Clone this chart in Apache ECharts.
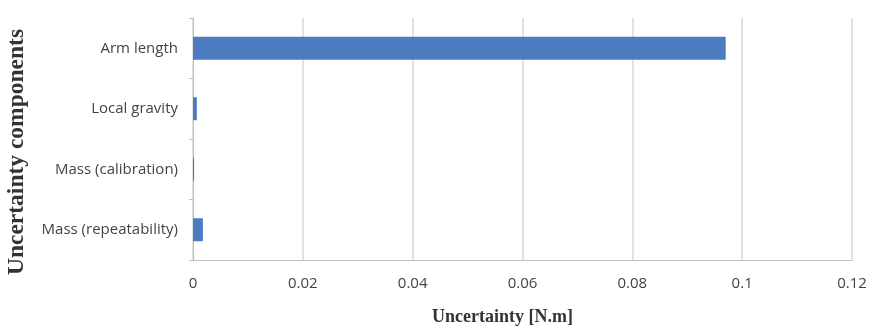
<!DOCTYPE html>
<html><head><meta charset="utf-8">
<script src="https://cdn.jsdelivr.net/npm/echarts@6/dist/echarts.min.js"></script>
<style>html,body{margin:0;padding:0;background:#fff}#c{width:875px;height:331px}</style>
</head><body><div id="c"></div>
<script>
const categories = ["Mass (repeatability)", "Mass (calibration)", "Local gravity", "Arm length"];
const values = [0.0018, 0.0002, 0.0007, 0.0970];
const xTicks = [0, 0.02, 0.04, 0.06, 0.08, 0.1, 0.12];
const xTitle = "Uncertainty [N.m]";
const yTitle = "Uncertainty components";

const chart = echarts.init(document.getElementById('c'), null, {renderer:'canvas'});
chart.setOption({
  animation:false,
  grid:{left:193, right:23, top:18, bottom:71, containLabel:false, outerBoundsMode:'none'},
  xAxis:{
    type:'value', min:xTicks[0], max:xTicks[xTicks.length-1], interval:0.02,
    name:xTitle, nameLocation:'middle', nameGap:48,
    nameTextStyle:{fontFamily:'Liberation Serif', fontWeight:'bold', fontSize:18, color:'#333', padding:[0,40,0,0]},
    axisLine:{show:true, lineStyle:{color:'#bfbfbf', width:1}},
    axisTick:{show:false},
    axisLabel:{fontFamily:'Open Sans', fontSize:15, color:'#444', margin:16,
      formatter:v=>String(parseFloat(v.toFixed(4)))},
    splitLine:{show:true, lineStyle:{color:'#d9d9d9', width:1.5}}
  },
  yAxis:{
    type:'category', data:categories,
    name:yTitle, nameLocation:'middle', nameGap:164, nameRotate:90,
    nameTextStyle:{fontFamily:'Liberation Serif', fontWeight:'bold', fontSize:23.5, color:'#333', padding:[0,26,0,0]},
    axisLine:{show:true, lineStyle:{color:'#bfbfbf', width:1}},
    axisTick:{show:true, length:4, lineStyle:{color:'#bfbfbf'}},
    axisLabel:{fontFamily:'Open Sans', fontSize:15, color:'#444', margin:15},
    splitLine:{show:false}
  },
  series:[{
    type:'bar', data:values, barWidth:23,
    itemStyle:{color:'#4a7cbf'}
  }]
});
</script></body></html>
